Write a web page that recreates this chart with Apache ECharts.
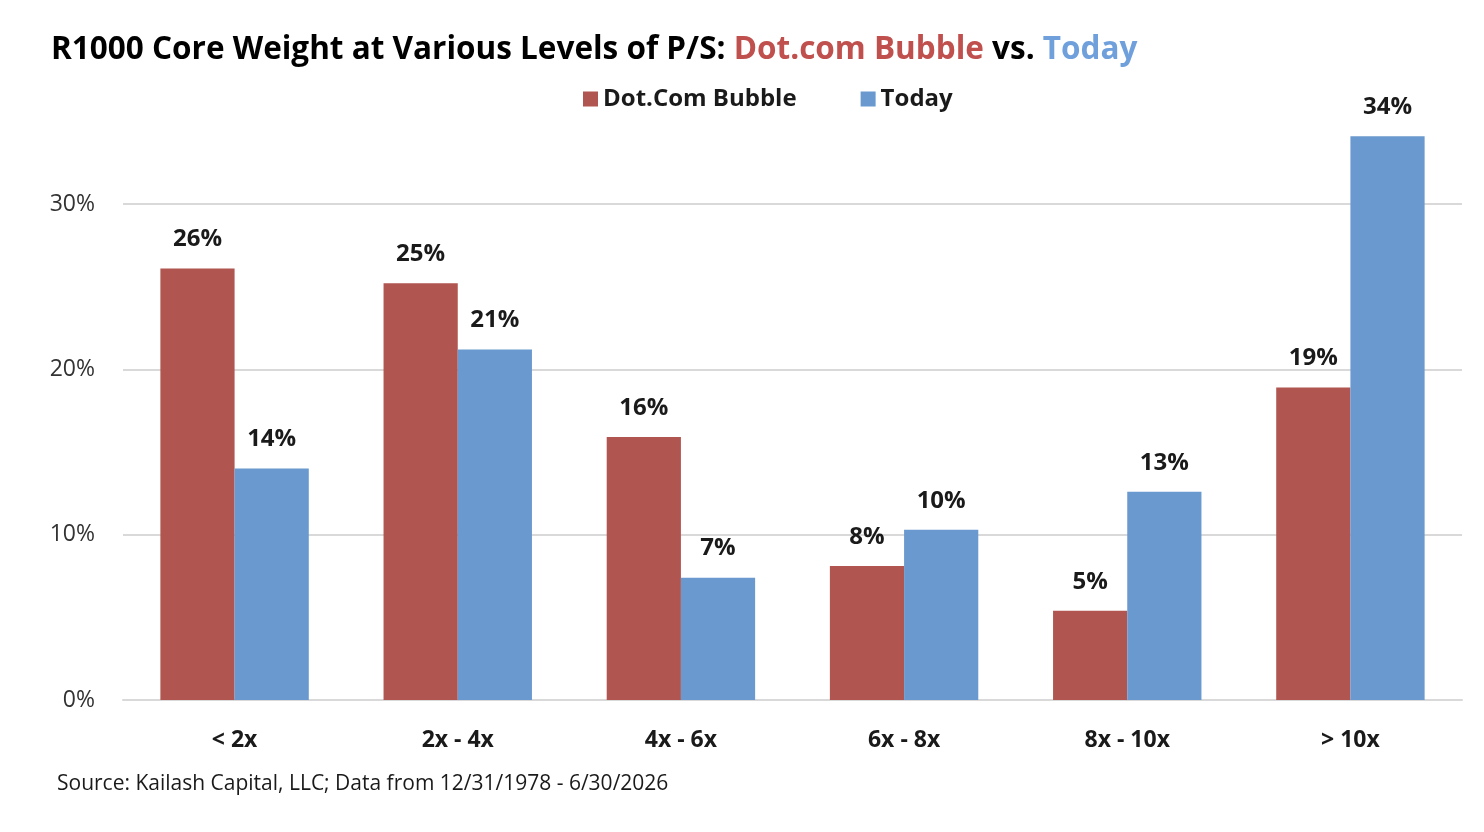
<!DOCTYPE html>
<html>
<head>
<meta charset="utf-8">
<script src="https://cdn.jsdelivr.net/npm/echarts@6/dist/echarts.min.js"></script>
<style>
html,body{margin:0;padding:0;background:#fff;}
#chart{width:1484px;height:832px;}
</style>
</head>
<body>
<div id="chart"></div>
<script>
const categories = ['< 2x', '2x - 4x', '4x - 6x', '6x - 8x', '8x - 10x', '> 10x'];
const dotcomValues = [26.1, 25.2, 15.9, 8.1, 5.4, 18.9];
const todayValues = [14.0, 21.2, 7.4, 10.3, 12.6, 34.1];
const yTicks = [0, 10, 20, 30];
const seriesNames = ['Dot.Com Bubble', 'Today'];
const titleParts = ['R1000 Core Weight at Various Levels of P/S: ', 'Dot.com Bubble', ' vs. ', 'Today'];
const sourceText = 'Source: Kailash Capital, LLC; Data from 12/31/1978 - 6/30/2026';

const FONT = '"Open Sans", Lato, sans-serif';
const RED = '#B0554F';
const BLUE = '#6999CE';

const chart = echarts.init(document.getElementById('chart'));
const labelCfg = {
  show: true,
  position: 'top',
  distance: 17,
  fontFamily: FONT,
  fontWeight: 'bold',
  fontSize: 24,
  color: '#1a1a1a',
  formatter: p => Math.round(p.value) + '%'
};
chart.setOption({
  animation: false,
  backgroundColor: '#ffffff',
  title: {
    left: 46,
    top: 29,
    text: '{a|' + titleParts[0] + '}{r|' + titleParts[1] + '}{a|' + titleParts[2] + '}{b|' + titleParts[3] + '}',
    textStyle: {
      rich: {
        a: {fontFamily: FONT, fontWeight: 'bold', fontSize: 31.5, color: '#000000'},
        r: {fontFamily: FONT, fontWeight: 'bold', fontSize: 31.5, color: '#C0504D'},
        b: {fontFamily: FONT, fontWeight: 'bold', fontSize: 31.5, color: '#6FA0DC'}
      }
    }
  },
  legend: {
    left: 578,
    top: 82,
    icon: 'rect',
    itemWidth: 15,
    itemHeight: 15,
    itemGap: 64,
    data: seriesNames,
    textStyle: {fontFamily: FONT, fontWeight: 'bold', fontSize: 24, color: '#1a1a1a'}
  },
  grid: {left: 123, right: 22, top: 38.67, bottom: 132, containLabel: false},
  xAxis: {
    type: 'category',
    data: categories,
    axisLine: {show: true, lineStyle: {color: '#d9d9d9', width: 2}},
    axisTick: {show: false},
    axisLabel: {fontFamily: FONT, fontWeight: 'bold', fontSize: 23, color: '#1a1a1a', margin: 29}
  },
  yAxis: {
    type: 'value',
    min: 0,
    max: 40,
    interval: 10,
    axisLine: {show: false},
    axisTick: {show: false},
    axisLabel: {
      fontFamily: FONT, fontSize: 23, color: '#333333', margin: 28,
      showMaxLabel: false,
      formatter: v => (yTicks.indexOf(v) >= 0 ? v + '%' : '')
    },
    splitLine: {show: true, lineStyle: {color: ['#d9d9d9', '#d9d9d9', '#d9d9d9', '#d9d9d9', 'rgba(0,0,0,0)'], width: 2}}
  },
  series: [
    {name: seriesNames[0], type: 'bar', data: dotcomValues, itemStyle: {color: RED}, barGap: '0%', barCategoryGap: '33.5%', label: labelCfg},
    {name: seriesNames[1], type: 'bar', data: todayValues, itemStyle: {color: BLUE}, barGap: '0%', barCategoryGap: '33.5%', label: labelCfg}
  ],
  graphic: [{
    type: 'text',
    left: 57,
    top: 774,
    style: {text: sourceText, fontFamily: FONT, fontSize: 21, fill: '#1a1a1a'}
  }]
});
</script>
</body>
</html>
